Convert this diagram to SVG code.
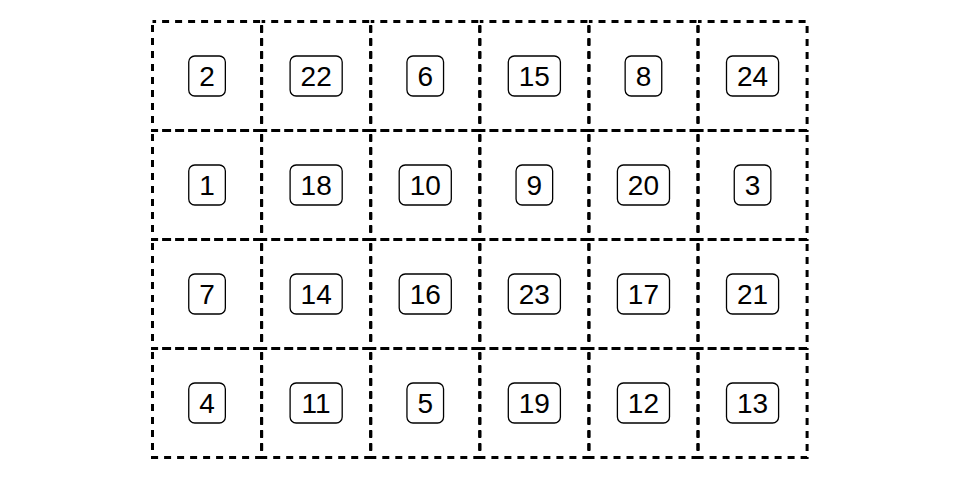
<svg xmlns="http://www.w3.org/2000/svg" width="960" height="480" viewBox="0 0 960 480">
<style>
.cell{fill:none;stroke:#000;stroke-width:3;stroke-dasharray:7 6;stroke-dashoffset:3.4}
.lb{fill:#fff;stroke:#000;stroke-width:1.3}
.t{font-family:"Liberation Sans",Arial,sans-serif;font-size:28px;fill:#000;text-anchor:middle}
</style>
<rect width="960" height="480" fill="#fff"/>
<g id="cell-r1c1"><rect class="cell" x="152.5" y="21.5" width="109.1" height="109"/><rect class="lb" x="188.75" y="56" width="36.6" height="40" rx="6"/><text class="t" x="207.05" y="86">2</text></g>
<g id="cell-r1c2"><rect class="cell" x="261.6" y="21.5" width="109.1" height="109"/><rect class="lb" x="290.1" y="56" width="52.1" height="40" rx="6"/><text class="t" x="316.15" y="86">22</text></g>
<g id="cell-r1c3"><rect class="cell" x="370.7" y="21.5" width="109.1" height="109"/><rect class="lb" x="406.95" y="56" width="36.6" height="40" rx="6"/><text class="t" x="425.25" y="86">6</text></g>
<g id="cell-r1c4"><rect class="cell" x="479.8" y="21.5" width="109.1" height="109"/><rect class="lb" x="508.3" y="56" width="52.1" height="40" rx="6"/><text class="t" x="534.35" y="86">15</text></g>
<g id="cell-r1c5"><rect class="cell" x="588.9" y="21.5" width="109.1" height="109"/><rect class="lb" x="625.15" y="56" width="36.6" height="40" rx="6"/><text class="t" x="643.45" y="86">8</text></g>
<g id="cell-r1c6"><rect class="cell" x="698" y="21.5" width="109.1" height="109"/><rect class="lb" x="726.5" y="56" width="52.1" height="40" rx="6"/><text class="t" x="752.55" y="86">24</text></g>

<g id="cell-r2c1"><rect class="cell" x="152.5" y="130.5" width="109.1" height="109"/><rect class="lb" x="188.75" y="165" width="36.6" height="40" rx="6"/><text class="t" x="207.05" y="195">1</text></g>
<g id="cell-r2c2"><rect class="cell" x="261.6" y="130.5" width="109.1" height="109"/><rect class="lb" x="290.1" y="165" width="52.1" height="40" rx="6"/><text class="t" x="316.15" y="195">18</text></g>
<g id="cell-r2c3"><rect class="cell" x="370.7" y="130.5" width="109.1" height="109"/><rect class="lb" x="399.2" y="165" width="52.1" height="40" rx="6"/><text class="t" x="425.25" y="195">10</text></g>
<g id="cell-r2c4"><rect class="cell" x="479.8" y="130.5" width="109.1" height="109"/><rect class="lb" x="516.05" y="165" width="36.6" height="40" rx="6"/><text class="t" x="534.35" y="195">9</text></g>
<g id="cell-r2c5"><rect class="cell" x="588.9" y="130.5" width="109.1" height="109"/><rect class="lb" x="617.4" y="165" width="52.1" height="40" rx="6"/><text class="t" x="643.45" y="195">20</text></g>
<g id="cell-r2c6"><rect class="cell" x="698" y="130.5" width="109.1" height="109"/><rect class="lb" x="734.25" y="165" width="36.6" height="40" rx="6"/><text class="t" x="752.55" y="195">3</text></g>

<g id="cell-r3c1"><rect class="cell" x="152.5" y="239.5" width="109.1" height="109"/><rect class="lb" x="188.75" y="274" width="36.6" height="40" rx="6"/><text class="t" x="207.05" y="304">7</text></g>
<g id="cell-r3c2"><rect class="cell" x="261.6" y="239.5" width="109.1" height="109"/><rect class="lb" x="290.1" y="274" width="52.1" height="40" rx="6"/><text class="t" x="316.15" y="304">14</text></g>
<g id="cell-r3c3"><rect class="cell" x="370.7" y="239.5" width="109.1" height="109"/><rect class="lb" x="399.2" y="274" width="52.1" height="40" rx="6"/><text class="t" x="425.25" y="304">16</text></g>
<g id="cell-r3c4"><rect class="cell" x="479.8" y="239.5" width="109.1" height="109"/><rect class="lb" x="508.3" y="274" width="52.1" height="40" rx="6"/><text class="t" x="534.35" y="304">23</text></g>
<g id="cell-r3c5"><rect class="cell" x="588.9" y="239.5" width="109.1" height="109"/><rect class="lb" x="617.4" y="274" width="52.1" height="40" rx="6"/><text class="t" x="643.45" y="304">17</text></g>
<g id="cell-r3c6"><rect class="cell" x="698" y="239.5" width="109.1" height="109"/><rect class="lb" x="726.5" y="274" width="52.1" height="40" rx="6"/><text class="t" x="752.55" y="304">21</text></g>

<g id="cell-r4c1"><rect class="cell" x="152.5" y="348.5" width="109.1" height="109"/><rect class="lb" x="188.75" y="383" width="36.6" height="40" rx="6"/><text class="t" x="207.05" y="413">4</text></g>
<g id="cell-r4c2"><rect class="cell" x="261.6" y="348.5" width="109.1" height="109"/><rect class="lb" x="290.1" y="383" width="52.1" height="40" rx="6"/><text class="t" x="316.15" y="413">11</text></g>
<g id="cell-r4c3"><rect class="cell" x="370.7" y="348.5" width="109.1" height="109"/><rect class="lb" x="406.95" y="383" width="36.6" height="40" rx="6"/><text class="t" x="425.25" y="413">5</text></g>
<g id="cell-r4c4"><rect class="cell" x="479.8" y="348.5" width="109.1" height="109"/><rect class="lb" x="508.3" y="383" width="52.1" height="40" rx="6"/><text class="t" x="534.35" y="413">19</text></g>
<g id="cell-r4c5"><rect class="cell" x="588.9" y="348.5" width="109.1" height="109"/><rect class="lb" x="617.4" y="383" width="52.1" height="40" rx="6"/><text class="t" x="643.45" y="413">12</text></g>
<g id="cell-r4c6"><rect class="cell" x="698" y="348.5" width="109.1" height="109"/><rect class="lb" x="726.5" y="383" width="52.1" height="40" rx="6"/><text class="t" x="752.55" y="413">13</text></g>
</svg>
